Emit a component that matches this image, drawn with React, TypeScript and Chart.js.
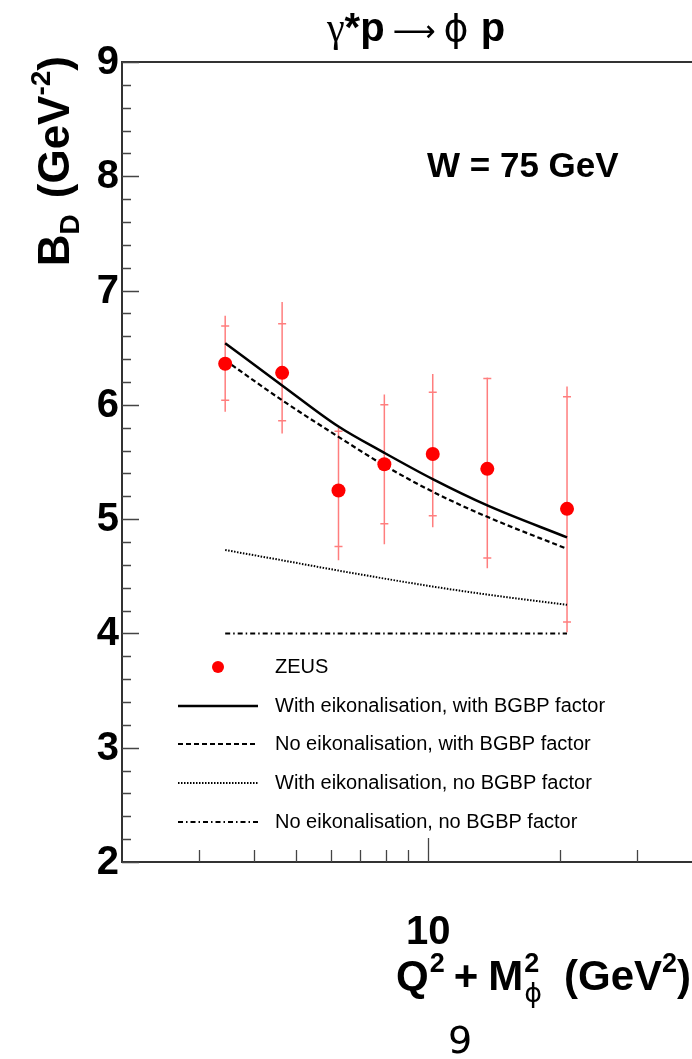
import { useEffect, useRef } from "react";
import { Chart, registerables } from "chart.js";

Chart.register(...registerables);

// ---------------- data ----------------
const q2m2 = [3.44, 4.64, 6.24, 7.94, 10.24, 13.64, 20.74];
const zeusBD = [6.36, 6.28, 5.25, 5.48, 5.57, 5.44, 5.09];
const zeusStatHi = [6.69, 6.71, 5.77, 6.0, 6.11, 6.23, 6.07];
const zeusStatLo = [6.04, 5.86, 4.76, 4.96, 5.03, 4.66, 4.1];
const zeusTotHi = [6.78, 6.9, 5.8, 6.09, 6.27, 6.24, 6.16];
const zeusTotLo = [5.94, 5.75, 4.64, 4.78, 4.93, 4.57, 4.01];

const eikBGBP = [6.54, 6.17, 5.81, 5.58, 5.35, 5.12, 4.84];
const noEikBGBP = [6.39, 6.04, 5.72, 5.47, 5.24, 5.02, 4.74];
const eikNoBGBP = [4.73, 4.64, 4.55, 4.48, 4.41, 4.34, 4.25];
const noEikNoBGBP = [4.0, 4.0, 4.0, 4.0, 4.0, 4.0, 4.0];

const legendLabels = [
  "ZEUS",
  "With eikonalisation, with BGBP factor",
  "No eikonalisation, with BGBP factor",
  "With eikonalisation, no BGBP factor",
  "No eikonalisation, no BGBP factor",
];

const yMajorTicks = [2, 3, 4, 5, 6, 7, 8, 9];
const yTickLabels = ["2", "3", "4", "5", "6", "7", "8", "9"];
const xMajorTicks = [10];
const xTickLabels = ["10"];
const xMinorTicks = [3, 4, 5, 6, 7, 8, 9, 20, 30];

const FONT = "'Liberation Sans', Arial, Helvetica, sans-serif";
const SYM = "'DejaVu Sans', 'Liberation Sans', sans-serif";
const SERIF = "'Liberation Serif', 'DejaVu Serif', serif";

type Seg = { t: string; size: number; bold?: boolean; dy?: number; gap?: number; font?: string; under?: Seg };

function segFont(s: Seg) {
  return `${s.bold ? "bold " : ""}${s.size}px ${s.font || FONT}`;
}
function segWidth(ctx: CanvasRenderingContext2D, s: Seg) {
  ctx.font = segFont(s);
  let w = ctx.measureText(s.t).width;
  if (s.under) {
    ctx.font = segFont(s.under);
    w = Math.max(w, ctx.measureText(s.under.t).width);
  }
  return w + (s.gap || 0);
}
function measureSegs(ctx: CanvasRenderingContext2D, segs: Seg[]) {
  return segs.reduce((a, s) => a + segWidth(ctx, s), 0);
}
function drawSegs(ctx: CanvasRenderingContext2D, segs: Seg[], x: number, y: number) {
  let cx = x;
  for (const s of segs) {
    const w = segWidth(ctx, s);
    ctx.font = segFont(s);
    ctx.fillText(s.t, cx, y + (s.dy || 0));
    if (s.under) {
      ctx.font = segFont(s.under);
      ctx.fillText(s.under.t, cx, y + (s.under.dy || 0));
    }
    cx += w;
  }
}

const LINE_STYLES = [
  { dash: [] as number[], width: 2.5 },
  { dash: [5, 3], width: 2.2 },
  { dash: [1.5, 1.5], width: 2 },
  { dash: [5, 3, 1.5, 3], width: 2 },
];

const rootPlugin = {
  id: "rootStyle",
  beforeDatasetsDraw(chart: any) {
    const ctx: CanvasRenderingContext2D = chart.ctx;
    const xs = chart.scales.x;
    const ys = chart.scales.y;
    ctx.save();
    ctx.strokeStyle = "rgba(255,40,40,0.6)";
    ctx.lineWidth = 1.5;
    for (let i = 0; i < q2m2.length; i++) {
      const px = xs.getPixelForValue(q2m2[i]);
      ctx.beginPath();
      ctx.moveTo(px, ys.getPixelForValue(zeusTotHi[i]));
      ctx.lineTo(px, ys.getPixelForValue(zeusTotLo[i]));
      for (const v of [zeusStatHi[i], zeusStatLo[i]]) {
        const py = ys.getPixelForValue(v);
        ctx.moveTo(px - 4, py);
        ctx.lineTo(px + 4, py);
      }
      ctx.stroke();
    }
    ctx.restore();
  },
  afterDraw(chart: any) {
    const ctx: CanvasRenderingContext2D = chart.ctx;
    const xs = chart.scales.x;
    const ys = chart.scales.y;
    const a = chart.chartArea;
    ctx.save();
    // frame
    ctx.strokeStyle = "#333";
    ctx.lineWidth = 2;
    ctx.beginPath();
    ctx.moveTo(a.right + 2, a.top);
    ctx.lineTo(a.left, a.top);
    ctx.lineTo(a.left, a.bottom);
    ctx.lineTo(a.right + 2, a.bottom);
    ctx.stroke();
    // y ticks
    ctx.lineWidth = 1.3;
    ctx.strokeStyle = "#444";
    ctx.beginPath();
    for (let v = 2; v <= 9.001; v += 0.2) {
      const major = Math.abs(v - Math.round(v)) < 1e-6;
      const py = Math.round(ys.getPixelForValue(v)) + 0.5;
      ctx.moveTo(a.left, py);
      ctx.lineTo(a.left + (major ? 17 : 9), py);
    }
    // x ticks
    for (const v of xMinorTicks) {
      const px = Math.round(xs.getPixelForValue(v)) + 0.5;
      ctx.moveTo(px, a.bottom);
      ctx.lineTo(px, a.bottom - 12);
    }
    for (const v of xMajorTicks) {
      const px = Math.round(xs.getPixelForValue(v)) + 0.5;
      ctx.moveTo(px, a.bottom);
      ctx.lineTo(px, a.bottom - 24);
    }
    ctx.stroke();

    ctx.fillStyle = "#000";
    // y tick labels
    ctx.font = `bold 40px ${FONT}`;
    ctx.textAlign = "right";
    ctx.textBaseline = "middle";
    yMajorTicks.forEach((v, i) => {
      ctx.fillText(yTickLabels[i], a.left - 3, ys.getPixelForValue(v) + 1);
    });
    // x tick labels
    ctx.textAlign = "center";
    ctx.textBaseline = "alphabetic";
    xMajorTicks.forEach((v, i) => {
      ctx.fillText(xTickLabels[i], xs.getPixelForValue(v), 944);
    });

    ctx.textAlign = "left";
    ctx.textBaseline = "alphabetic";
    // title
    const title: Seg[] = [
      { t: "γ", size: 40, font: SERIF },
      { t: "*", size: 40, bold: true },
      { t: "p", size: 40, bold: true, gap: 8 },
      { t: "⟶", size: 30, font: SYM, gap: 8 },
      { t: "ϕ", size: 38, font: SYM, gap: 12 },
      { t: "p", size: 40, bold: true },
    ];
    const tw = measureSegs(ctx, title);
    drawSegs(ctx, title, 416 - tw / 2, 41);

    // W = 75 GeV
    ctx.font = `bold 35px ${FONT}`;
    ctx.fillText("W = 75 GeV", 427, 177);

    // x title
    const xt: Seg[] = [
      { t: "Q", size: 42, bold: true, gap: 1 },
      { t: "2", size: 27, bold: true, dy: -18, gap: 9 },
      { t: "+", size: 42, bold: true, gap: 10 },
      { t: "M", size: 42, bold: true, gap: 1 },
      { t: "2", size: 27, bold: true, dy: -18, gap: 22, under: { t: "ϕ", size: 27, font: SYM, dy: 12 } },
      { t: "(GeV", size: 42, bold: true },
      { t: "2", size: 27, bold: true, dy: -18 },
      { t: ")", size: 42, bold: true },
    ];
    const xw = measureSegs(ctx, xt);
    drawSegs(ctx, xt, 691 - xw, 990);

    // y title (rotated)
    const yt: Seg[] = [
      { t: "B", size: 44, bold: true },
      { t: "D", size: 28, bold: true, dy: 10, gap: 16 },
      { t: "(GeV", size: 44, bold: true },
      { t: "-2", size: 28, bold: true, dy: -19 },
      { t: ")", size: 44, bold: true },
    ];
    const yw = measureSegs(ctx, yt);
    ctx.save();
    ctx.translate(69, 56 + yw);
    ctx.rotate(-Math.PI / 2);
    drawSegs(ctx, yt, 0, 0);
    ctx.restore();

    // stray glyph at bottom
    ctx.font = `38px 'DejaVu Sans', sans-serif`;
    ctx.textAlign = "center";
    ctx.fillText("9", 460, 1053);

    // legend
    const rows = [667, 706, 744, 783, 822];
    ctx.textAlign = "left";
    ctx.textBaseline = "middle";
    ctx.font = `20px ${FONT}`;
    rows.forEach((ry, i) => {
      ctx.fillStyle = "#000";
      ctx.fillText(legendLabels[i], 275, ry);
      if (i === 0) {
        ctx.fillStyle = "#ff0000";
        ctx.beginPath();
        ctx.arc(218, ry, 6, 0, Math.PI * 2);
        ctx.fill();
      } else {
        const st = LINE_STYLES[i - 1];
        ctx.strokeStyle = "#000";
        ctx.lineWidth = st.width;
        ctx.setLineDash(st.dash);
        ctx.beginPath();
        ctx.moveTo(178, ry);
        ctx.lineTo(258, ry);
        ctx.stroke();
        ctx.setLineDash([]);
      }
    });
    ctx.restore();
  },
};

export default function App() {
  const ref = useRef<HTMLCanvasElement>(null);
  useEffect(() => {
    document.body.style.margin = "0";
    const mk = (label: string, data: number[], i: number) => ({
      label,
      data: q2m2.map((x, k) => ({ x, y: data[k] })),
      showLine: true,
      borderColor: "#000",
      borderWidth: LINE_STYLES[i].width,
      borderDash: LINE_STYLES[i].dash,
      pointRadius: 0,
      fill: false,
      cubicInterpolationMode: "monotone" as const,
    });
    const chart = new Chart(ref.current as HTMLCanvasElement, {
      type: "scatter",
      data: {
        datasets: [
          {
            label: legendLabels[0],
            data: q2m2.map((x, k) => ({ x, y: zeusBD[k] })),
            showLine: false,
            pointRadius: 7,
            pointBackgroundColor: "#ff0000",
            pointBorderWidth: 0,
            borderColor: "#ff0000",
          } as any,
          mk(legendLabels[1], eikBGBP, 0),
          mk(legendLabels[2], noEikBGBP, 1),
          mk(legendLabels[3], eikNoBGBP, 2),
          mk(legendLabels[4], noEikNoBGBP, 3),
        ],
      },
      options: {
        responsive: false,
        animation: false,
        layout: { autoPadding: false, padding: { left: 122, top: 62, right: 0, bottom: 197 } },
        scales: {
          x: { type: "logarithmic", min: 2, max: 40, display: false },
          y: { type: "linear", min: 2, max: 9, display: false },
        },
        plugins: { legend: { display: false }, tooltip: { enabled: false }, title: { display: false } },
      },
      plugins: [rootPlugin],
    });
    return () => chart.destroy();
  }, []);
  return (
    <div style={{ position: "fixed", left: 0, top: 0, width: 692, height: 1059, background: "#fff" }}>
      <canvas ref={ref} width={692} height={1059} style={{ display: "block", width: 692, height: 1059 }} />
    </div>
  );
}
